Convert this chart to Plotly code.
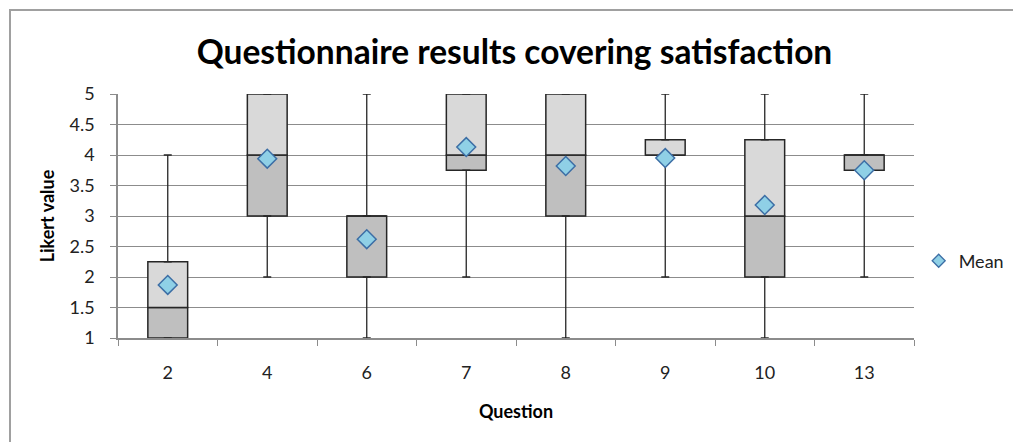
import plotly.graph_objects as go

questions = ["2", "4", "6", "7", "8", "9", "10", "13"]
minimum = [1, 2, 1, 2, 1, 2, 1, 2]
q1 = [1, 3, 2, 3.75, 3, 4, 2, 3.75]
median = [1.5, 4, 3, 4, 4, 4, 3, 4]
q3 = [2.25, 5, 3, 5, 5, 4.25, 4.25, 4]
maximum = [4, 5, 5, 5, 5, 5, 5, 5]
mean = [1.87, 3.94, 2.62, 4.13, 3.82, 3.95, 3.18, 3.75]
y_ticks = [1, 1.5, 2, 2.5, 3, 3.5, 4, 4.5, 5]

lower_h = [m - a for m, a in zip(median, q1)]
upper_h = [b - m for b, m in zip(q3, median)]
down_whisk = [a - lo for a, lo in zip(q1, minimum)]
up_whisk = [hi - b for hi, b in zip(maximum, q3)]

edge = "#262626"
fig = go.Figure()

# whiskers
fig.add_trace(go.Scatter(
    x=questions, y=q1, mode="markers", marker=dict(opacity=0, size=1),
    error_y=dict(type="data", symmetric=False, array=[0]*len(questions),
                 arrayminus=down_whisk, color=edge, thickness=1.3, width=4),
    showlegend=False, hoverinfo="skip"))
fig.add_trace(go.Scatter(
    x=questions, y=q3, mode="markers", marker=dict(opacity=0, size=1),
    error_y=dict(type="data", symmetric=False, array=up_whisk,
                 arrayminus=[0]*len(questions), color=edge, thickness=1.3, width=4),
    showlegend=False, hoverinfo="skip"))

# boxes
fig.add_trace(go.Bar(x=questions, y=lower_h, base=q1, width=0.4,
                     marker=dict(color="#bfbfbf", line=dict(color=edge, width=1.5)),
                     showlegend=False))
fig.add_trace(go.Bar(x=questions, y=upper_h, base=median, width=0.4,
                     marker=dict(color="#d9d9d9", line=dict(color=edge, width=1.5)),
                     showlegend=False))

# mean
fig.add_trace(go.Scatter(x=questions, y=mean, mode="markers", name="Mean",
                         showlegend=False,
                         marker=dict(symbol="diamond", size=14.5, color="#8fd0e6",
                                     line=dict(color="#3c6ea5", width=1.5))))
# legend entry (smaller symbol, as in the reference)
fig.add_trace(go.Scatter(x=[None], y=[None], mode="markers", name="Mean",
                         marker=dict(symbol="diamond", size=10, color="#8fd0e6",
                                     line=dict(color="#3c6ea5", width=1.3))))

fig.update_layout(
    width=1013, height=434,
    margin=dict(l=110, r=107, t=86, b=104, autoexpand=False),
    paper_bgcolor="white", plot_bgcolor="white",
    barmode="overlay",
    font=dict(family="Lato, 'Open Sans', sans-serif", size=18, color="#222"),
    title=dict(text="<b>Questionnaire results covering satisfaction</b>",
               x=0.5, xanchor="center", y=0.899, yanchor="middle",
               font=dict(size=33.5, color="black")),
    xaxis=dict(type="category", tickson="boundaries", ticks="outside", ticklen=6,
               tickcolor="#8c8c8c", showline=True, linecolor="#8c8c8c", linewidth=1.5,
               ticklabelstandoff=18,
               showgrid=False, automargin=False,
               title=dict(text="<b>Question</b>", standoff=23,
                          font=dict(size=18, color="black"))),
    yaxis=dict(range=[1, 5], tickvals=y_ticks,
               ticktext=[f"{v:g}" for v in y_ticks],
               ticks="outside", ticklen=6, tickcolor="#8c8c8c",
               showline=True, linecolor="#8c8c8c", linewidth=1.5,
               ticklabelstandoff=12, automargin=False,
               gridcolor="#8c8c8c", gridwidth=1, zeroline=False,
               title=dict(text="<b>Likert value</b>", standoff=10,
                          font=dict(size=18, color="black"))),
    legend=dict(xref="container", yref="container", x=0.899, xanchor="left",
                y=0.417, yanchor="middle", font=dict(size=18), itemwidth=30,
                bgcolor="rgba(0,0,0,0)"),
    shapes=[dict(type="rect", xref="paper", yref="paper",
                 x0=(10 - 118) / 796, x1=(1040 - 118) / 796,
                 y0=(338 - 460) / 244, y1=(338 - 10) / 244,
                 line=dict(color="#a0a0a0", width=2), layer="below")],
)

fig.write_html("out.html")
